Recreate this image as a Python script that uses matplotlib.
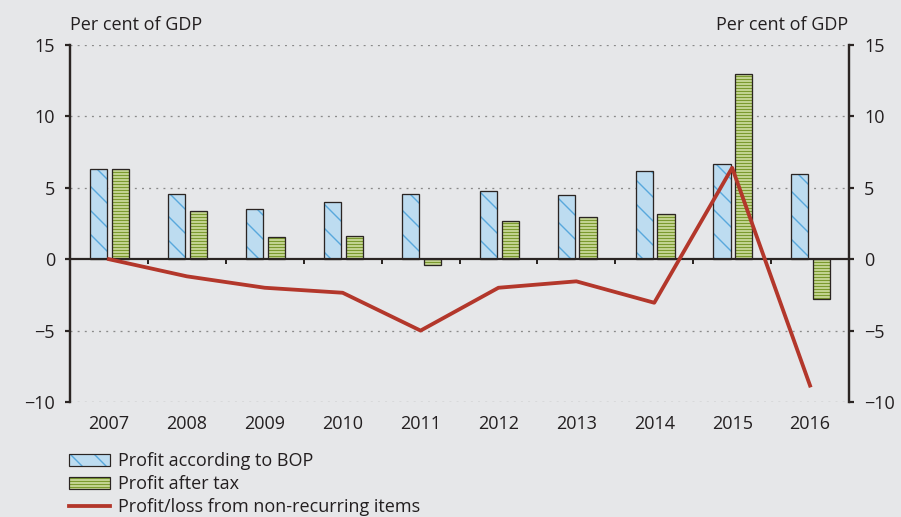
import matplotlib.pyplot as plt
import matplotlib.patches as mpatches
from matplotlib.lines import Line2D
from matplotlib.legend_handler import HandlerTuple
import numpy as np

plt.rcParams['font.family'] = ['Open Sans', 'DejaVu Sans']
plt.rcParams['hatch.linewidth'] = 1.4

years = ['2007', '2008', '2009', '2010', '2011', '2012', '2013', '2014', '2015', '2016']
profit_bop = [6.3, 4.55, 3.5, 4.0, 4.55, 4.8, 4.5, 6.2, 6.65, 5.95]
profit_after_tax = [6.3, 3.4, 1.55, 1.65, -0.4, 2.7, 2.95, 3.15, 13.0, -2.8]
non_recurring = [0.0, -1.2, -2.0, -2.35, -5.0, -2.0, -1.55, -3.05, 6.4, -8.85]
yticks = [-10, -5, 0, 5, 10, 15]

bg = '#e6e7e9'
dark = '#2b2523'
txt = '#231f20'
blue_face, blue_hatch = '#bddcf0', '#58a8dc'
green_face, green_hatch = '#d3e0a8', '#7b9a2e'
red = '#b3372b'
fs = 18
dpi = 72

fig = plt.figure(figsize=(901 / dpi, 517 / dpi), dpi=dpi, facecolor=bg)
ax = fig.add_axes([70 / 901, 1 - 402 / 517, 779 / 901, 357 / 517])
ax.set_facecolor(bg)

x = np.arange(len(years))
w = 0.22

# hatch takes the edge colour, so the dark outline is a second bar on top
ax.bar(x - 0.13, profit_bop, w, color=blue_face, edgecolor=blue_hatch,
       hatch='\\', linewidth=0, zorder=2)
ax.bar(x - 0.13, profit_bop, w, fill=False, edgecolor=dark, linewidth=1.3, zorder=3)
ax.bar(x + 0.15, profit_after_tax, w, color=green_face, edgecolor=green_hatch,
       hatch='----', linewidth=0, zorder=2)
ax.bar(x + 0.15, profit_after_tax, w, fill=False, edgecolor=dark, linewidth=1.3, zorder=3)

ax.axhline(0, color=dark, linewidth=2.2, zorder=4)
ax.vlines(x[:-1] + 0.5, -0.35, 0, color=dark, linewidth=2, zorder=4)
ax.plot(x, non_recurring, color=red, linewidth=3.8, zorder=5)

for yv in yticks:
    if yv != 0:
        ax.axhline(yv, color='#8a8a8a', linewidth=1.3, linestyle=(0, (1.5, 4)), zorder=1)

ax.set_xlim(-0.5, len(years) - 0.5)
ax.set_ylim(-10, 15)
ax.set_yticks(yticks)
ax.set_xticks(x)
ax.set_xticklabels(years)

for s in ['top', 'bottom']:
    ax.spines[s].set_visible(False)
for s in ['left', 'right']:
    ax.spines[s].set_color(dark)
    ax.spines[s].set_linewidth(2.4)

ax.tick_params(axis='y', left=True, right=True, labelleft=True, labelright=True,
               direction='out', length=5, width=2.2, color=dark,
               labelsize=fs, labelcolor=txt, pad=10)
ax.tick_params(axis='x', length=0, labelsize=fs, labelcolor=txt, pad=13)

fig.text(70 / 901, 1 - 25 / 517, 'Per cent of GDP', fontsize=fs,
         color=txt, ha='left', va='center')
fig.text(848 / 901, 1 - 25 / 517, 'Per cent of GDP', fontsize=fs,
         color=txt, ha='right', va='center')

h1 = (mpatches.Patch(facecolor=blue_face, edgecolor=blue_hatch, hatch='\\', linewidth=0),
      mpatches.Patch(fill=False, edgecolor=dark, linewidth=1.2))
h2 = (mpatches.Patch(facecolor=green_face, edgecolor=green_hatch, hatch='----', linewidth=0),
      mpatches.Patch(fill=False, edgecolor=dark, linewidth=1.2))
h3 = Line2D([], [], color=red, linewidth=3.8)
leg = fig.legend([h1, h2, h3],
                 ['Profit according to BOP', 'Profit after tax',
                  'Profit/loss from non-recurring items'],
                 handler_map={tuple: HandlerTuple(ndivide=1, pad=0)},
                 loc='upper left', bbox_to_anchor=(69 / 901, 1 - 452 / 517),
                 frameon=False, fontsize=fs, handlelength=2.25, handleheight=0.65,
                 labelspacing=0.28, handletextpad=0.45, borderaxespad=0,
                 borderpad=0)
for t in leg.get_texts():
    t.set_color(txt)

fig.savefig('out.png', dpi=dpi, facecolor=bg)
